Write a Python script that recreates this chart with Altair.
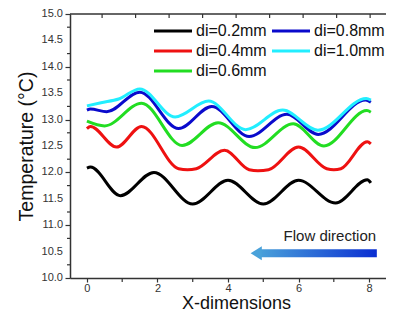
import altair as alt
import pandas as pd

# ---- data ----
names = ["di=0.2mm", "di=0.4mm", "di=0.6mm", "di=0.8mm", "di=1.0mm"]
colors = ["#000000", "#ee1111", "#22dd22", "#0a0acc", "#22eeff"]

x_02 = [0.0, 0.1, 0.95, 1.9, 3.0, 4.0, 5.0, 6.0, 7.05, 7.95, 8.05]
y_02 = [12.08, 12.1, 11.56, 12.0, 11.4, 11.85, 11.4, 11.85, 11.42, 11.86, 11.8]

x_04 = [0.0, 0.1, 0.84, 1.55, 2.6, 2.85, 3.1, 3.9, 4.6, 4.85, 5.15, 6.0, 6.8, 7.0, 7.2, 7.95, 8.05]
y_04 = [12.83, 12.87, 12.48, 12.87, 12.07, 12.05, 12.07, 12.42, 12.05, 12.03, 12.05, 12.48, 12.07, 12.05, 12.07, 12.58, 12.54]

x_06 = [0.0, 0.5, 1.55, 2.7, 3.72, 4.77, 5.85, 6.72, 7.94, 8.05]
y_06 = [12.97, 12.88, 13.31, 12.51, 12.94, 12.47, 12.92, 12.5, 13.17, 13.14]

x_08 = [0.0, 0.1, 0.56, 1.5, 2.6, 3.54, 4.6, 5.67, 6.56, 7.9, 8.05]
y_08 = [13.18, 13.2, 13.15, 13.52, 12.83, 13.25, 12.68, 13.1, 12.72, 13.37, 13.33]

x_10 = [0.0, 0.4, 0.9, 1.5, 2.5, 3.45, 4.5, 5.55, 6.55, 7.92, 8.05]
y_10 = [13.26, 13.32, 13.39, 13.58, 13.05, 13.35, 12.81, 13.18, 12.8, 13.4, 13.37]

y_major = [10.0, 10.5, 11.0, 11.5, 12.0, 12.5, 13.0, 13.5, 14.0, 14.5, 15.0]
y_minor = [10.25, 10.75, 11.25, 11.75, 12.25, 12.75, 13.25, 13.75, 14.25, 14.75]
x_major = [0, 2, 4, 6, 8]
x_minor = [1, 3, 5, 7]
top_ticks = [0.43, 1.38, 2.33, 3.28, 4.23, 5.18, 6.13, 7.08, 8.03]

arrow_text = "Flow direction"

# ---- build tables ----
xs = [x_02, x_04, x_06, x_08, x_10]
ys = [y_02, y_04, y_06, y_08, y_10]
rows = []
for n, xv, yv in zip(names, xs, ys):
    for a, b in zip(xv, yv):
        rows.append({"series": n, "x": a, "y": b})
df = pd.DataFrame(rows)

W, H = 316, 264
FONT = "Liberation Sans"
XDOM = [-0.48, 8.48]
YDOM = [10, 15]
AX = "#333333"

xscale = alt.Scale(domain=XDOM, nice=False, zero=False)
yscale = alt.Scale(domain=YDOM, nice=False, zero=False)

lines = alt.Chart(df).mark_line(interpolate="monotone", strokeWidth=3).encode(
    x=alt.X("x:Q", scale=xscale, title="X-dimensions",
            axis=alt.Axis(values=x_major, format="d", tickSize=4, labelPadding=0,
                          titlePadding=1, labelOverlap=False, labelFlush=False,
                          titleFontSize=18, titleX=166)),
    y=alt.Y("y:Q", scale=yscale, title="Temperature (°C)",
            axis=alt.Axis(values=y_major, labels=False, tickSize=5, titlePadding=28,
                          titleFontSize=19.5)),
    color=alt.Color("series:N", scale=alt.Scale(domain=names, range=colors), legend=None),
    detail="series:N",
)

# y tick labels
ylab_df = pd.DataFrame({"v": y_major, "label": [f"{v:.1f}" for v in y_major]})
y_labels = alt.Chart(ylab_df).mark_text(align="right", baseline="middle", fontSize=11,
                                        font=FONT, color=AX).encode(
    y=alt.Y("v:Q", scale=yscale), x=alt.value(-7), text="label:N"
)

# minor ticks
y_minor_marks = alt.Chart(pd.DataFrame({"v": y_minor})).mark_rule(color=AX, strokeWidth=1.2).encode(
    y=alt.Y("v:Q", scale=yscale), x=alt.value(-3), x2=alt.value(0)
)
x_minor_marks = alt.Chart(pd.DataFrame({"v": x_minor})).mark_rule(color=AX, strokeWidth=1.2).encode(
    x=alt.X("v:Q", scale=xscale), y=alt.value(H), y2=alt.value(H + 4)
)

# top border and inward top ticks
top_line = alt.Chart(pd.DataFrame({"a": [0]})).mark_rule(color=AX, strokeWidth=1.5).encode(
    x=alt.value(0), x2=alt.value(W), y=alt.value(0)
)
top_tick_marks = alt.Chart(pd.DataFrame({"t": top_ticks})).mark_rule(color=AX, strokeWidth=1.2).encode(
    x=alt.X("t:Q", scale=xscale), y=alt.value(0), y2=alt.value(4)
)

# manual legend
legend_layers = []
for i, (n, c) in enumerate(zip(names, colors)):
    col = 0 if i < 3 else 1
    row = i if i < 3 else i - 3
    x0 = 84 + col * 118
    yy = 17 + row * 20
    d = pd.DataFrame({"label": [n]})
    legend_layers.append(
        alt.Chart(d).mark_rule(color=c, strokeWidth=3).encode(
            x=alt.value(x0), x2=alt.value(x0 + 38), y=alt.value(yy))
    )
    legend_layers.append(
        alt.Chart(d).mark_text(align="left", baseline="middle", fontSize=16, font=FONT, color="#111").encode(
            x=alt.value(x0 + 42), y=alt.value(yy), text="label:N")
    )

# flow direction arrow
one = pd.DataFrame({"a": [0]})
grad = alt.Gradient(gradient="linear",
                    stops=[alt.GradientStop(color="#4aa2da", offset=0),
                           alt.GradientStop(color="#0a2ed2", offset=1)],
                    x1=0, x2=1, y1=0, y2=0)
arrow_body = alt.Chart(one).mark_rect(color=grad).encode(
    x=alt.datum(4.85, scale=xscale), x2=alt.datum(8.22),
    y=alt.datum(10.545, scale=yscale), y2=alt.datum(10.395),
)
arrow_head = alt.Chart(one).mark_point(shape="M0.8,-1L-0.8,0L0.8,1Z", filled=True, color="#4aa2da",
                                       opacity=1, size=196, strokeWidth=0).encode(
    x=alt.datum(4.80, scale=xscale), y=alt.datum(10.47, scale=yscale)
)
arrow_label = alt.Chart(pd.DataFrame({"label": [arrow_text]})).mark_text(
    align="right", baseline="middle", fontSize=15, font=FONT, color="#222").encode(
    x=alt.datum(8.2, scale=xscale), y=alt.datum(10.8, scale=yscale), text="label:N"
)

chart = alt.layer(lines, y_labels, y_minor_marks, x_minor_marks, top_line, top_tick_marks,
                  arrow_body, arrow_head, arrow_label, *legend_layers).properties(
    width=W, height=H,
    autosize=alt.AutoSizeParams(type="none"),
    padding={"left": 62, "top": 6, "right": 0, "bottom": 34},
).configure_view(stroke=None).configure_axis(
    grid=False, domainColor=AX, domainWidth=1.5, tickColor=AX, tickWidth=1.2,
    labelColor=AX, labelFont=FONT, labelFontSize=11,
    titleFont=FONT, titleColor="#111", titleFontWeight="normal",
)

chart.save("out.html", embed_options={"renderer": "svg", "actions": False})
